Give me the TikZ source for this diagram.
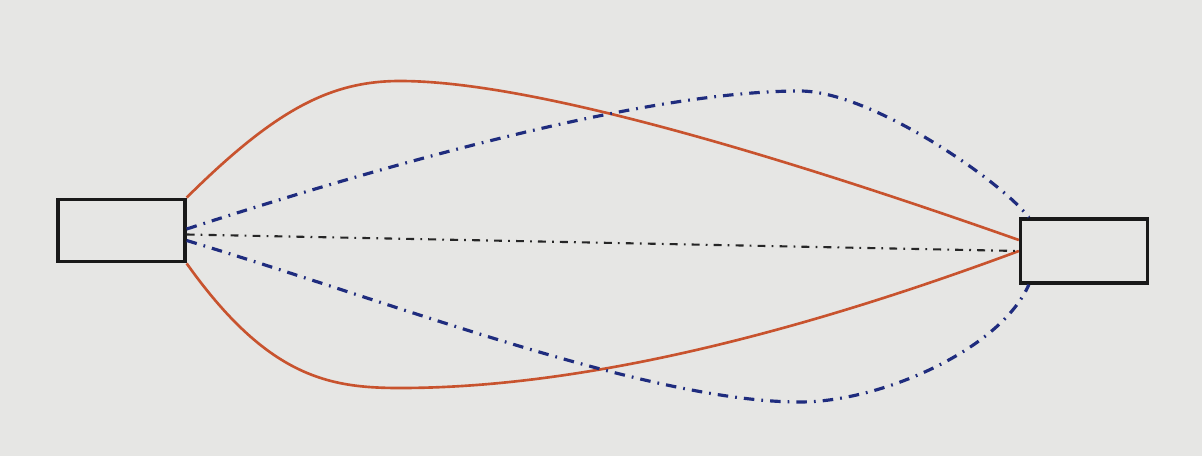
\documentclass[tikz,border=0pt]{standalone}
\usetikzlibrary{positioning}
\definecolor{Cpaper}{HTML}{E6E6E4}
\definecolor{Cpathred}{HTML}{C8532E}
\definecolor{Cpathblue}{HTML}{1F2C7E}
\tikzset{
  station/.style={draw=black!90,line width=1.9pt,inner sep=0pt,minimum width=2.54cm,minimum height=1.25cm},
  redpath/.style={Cpathred,line width=1.5pt},
  bluepath/.style={Cpathblue,line width=1.8pt,dash pattern=on 6pt off 4pt on 1pt off 4pt},
  axispath/.style={black!85,line width=1.2pt,dash pattern=on 4.5pt off 3.5pt on 1pt off 3.5pt}
}

\begin{document}
\begin{tikzpicture}[x=0.02cm,y=-0.02cm]
  \fill[Cpaper] (0,0) rectangle (1202,456);
  \useasboundingbox (0,0) rectangle (1202,456);
  \node[station] (lbox) at (121.5,230.5) {};
  \node[station,minimum height=1.28cm] (rbox) at (1084,251) {};
  % upper and lower solid paths
  \draw[redpath] (lbox.north east) .. controls (275,110) and (330,81) .. (400,81)
    .. controls (511,81) and (718,134) .. ([yshift=0.22cm]rbox.west);
  \draw[redpath] (lbox.south east) .. controls (268,378) and (330,388) .. (400,388)
    .. controls (567,388) and (774,342) .. (rbox.west);
  % dash-dotted paths
  \draw[bluepath] ([yshift=0.03cm]lbox.east) .. controls (400,160) and (650,91) .. (800,91)
    .. controls (870,91) and (1000,180) .. ([xshift=0.2cm]rbox.north west);
  \draw[bluepath] ([yshift=-0.2cm]lbox.east) .. controls (400,305) and (650,402) .. (800,402)
    .. controls (880,402) and (1000,350) .. ([xshift=0.2cm]rbox.south west);
  \draw[axispath] ([yshift=-0.08cm]lbox.east) -- (rbox.west);
\end{tikzpicture}
\end{document}
